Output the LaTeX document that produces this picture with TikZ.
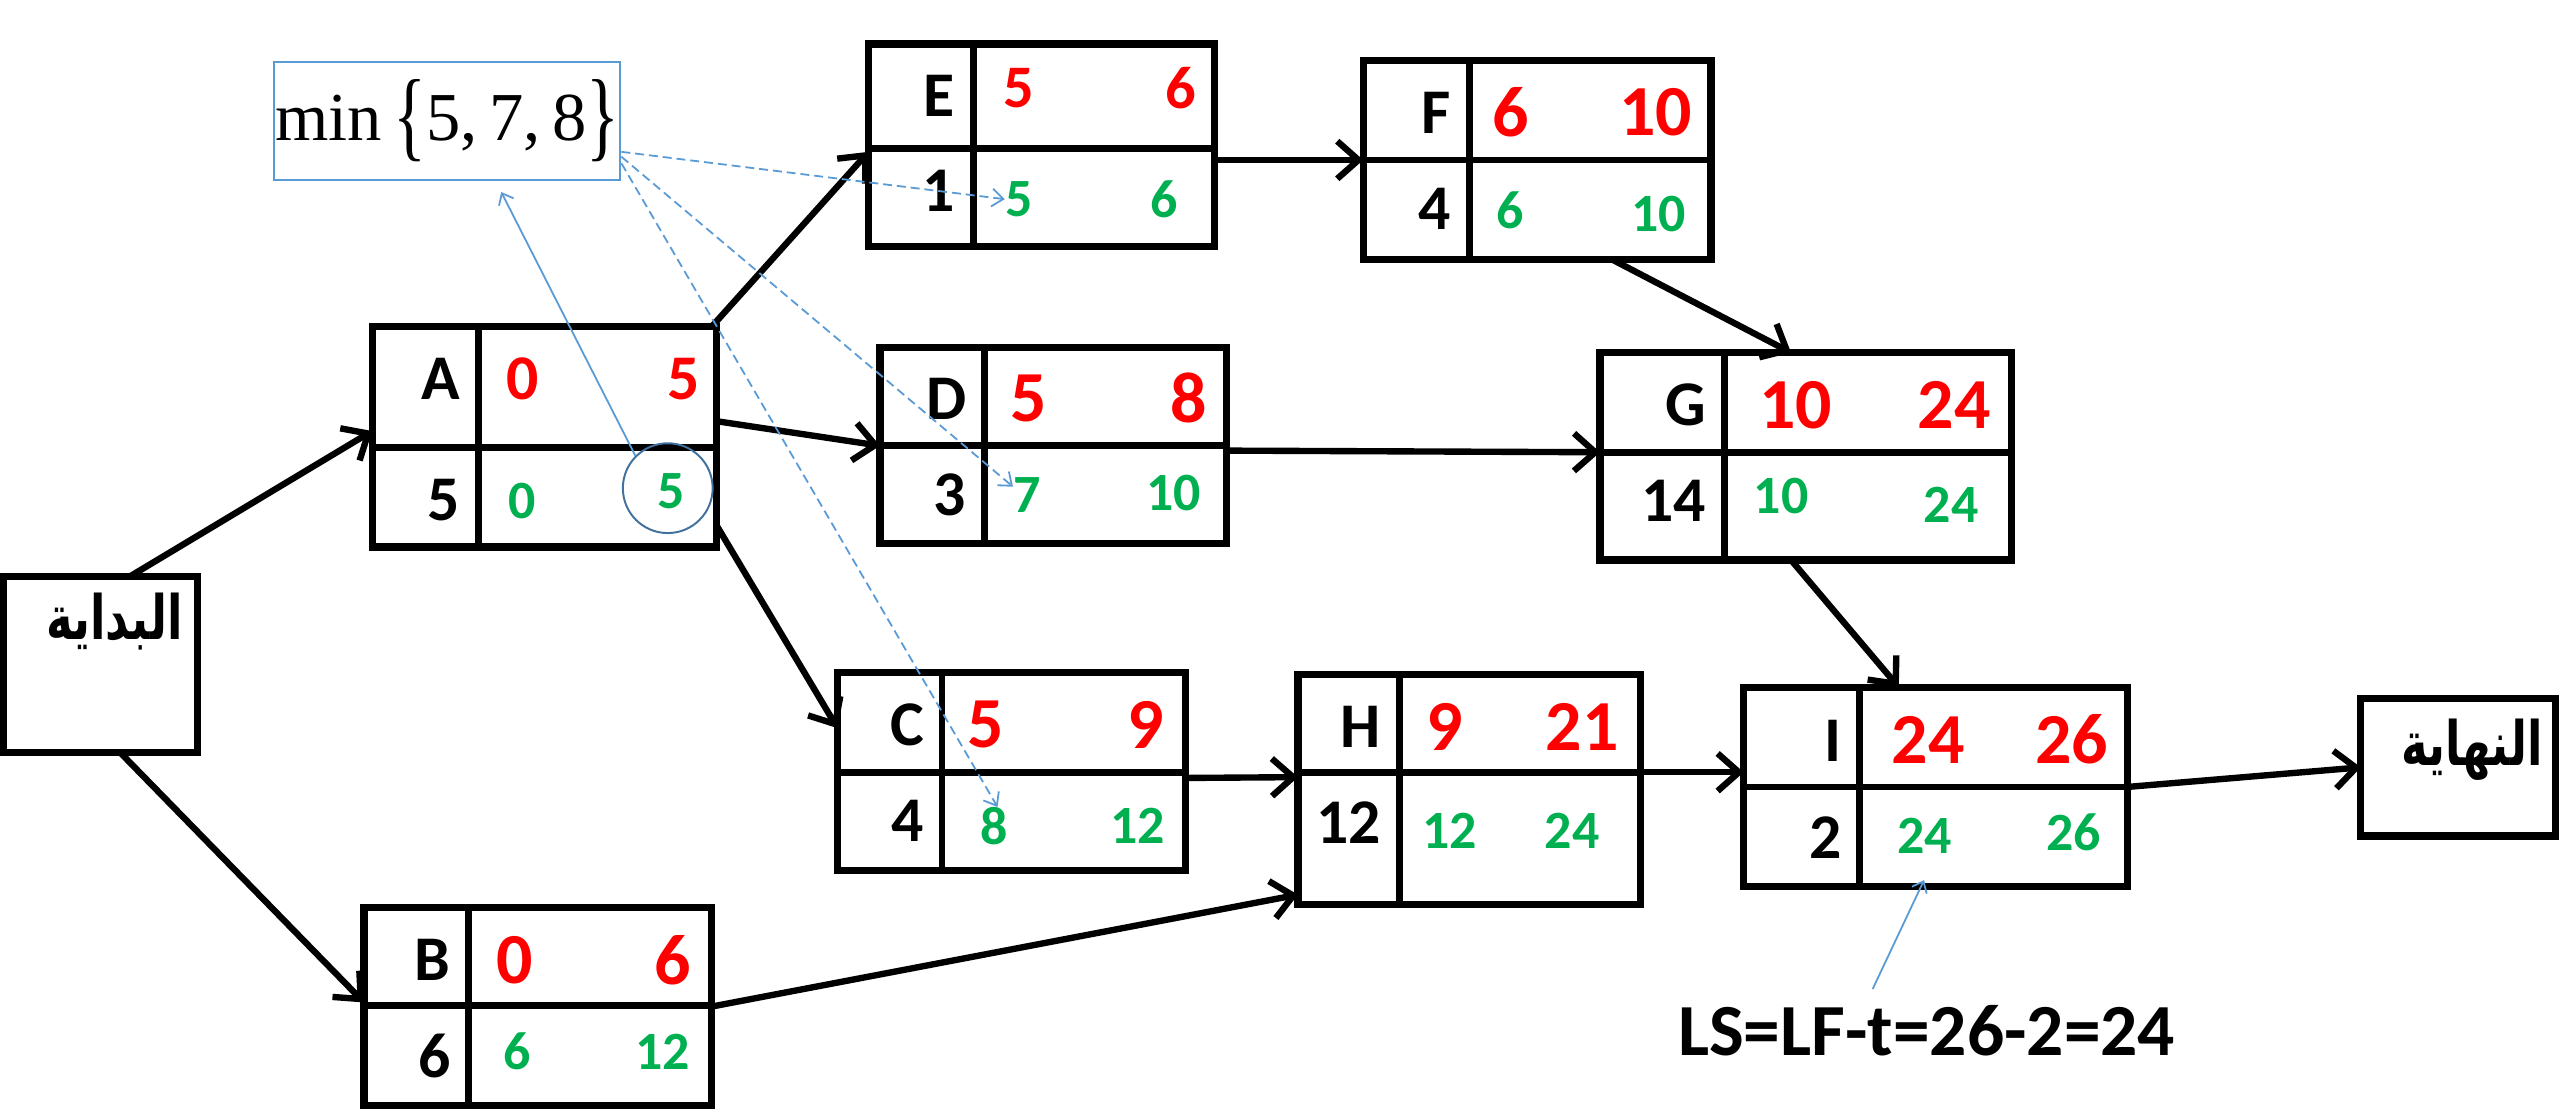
\documentclass[tikz,border=0pt]{standalone}
\usepackage{fontspec}
\usepackage{graphicx}
\setmainfont{Carlito}
\newfontfamily\arabicfont[Script=Arabic]{DejaVu Sans}
\newfontfamily\notefont{Liberation Serif}
\TeXXeTstate=1
\usetikzlibrary{arrows.meta,calc}

\definecolor{estred}{HTML}{FF0000}
\definecolor{lsgreen}{HTML}{00B050}
\definecolor{noteblue}{HTML}{5B9BD5}
\definecolor{ringblue}{HTML}{41719C}

\tikzset{
  boxframe/.style={draw=black, line width=4.4pt, inner sep=0pt, outer sep=0pt},
  boxline/.style={draw=black, line width=4.2pt},
  actname/.style={anchor=east, inner sep=0pt, text=black,
    font=\fontsize{39}{39}\selectfont\bfseries},
  early/.style={inner sep=0pt, text=estred,
    font=\fontsize{#1}{#1}\selectfont\bfseries},
  early/.default=44,
  late/.style={inner sep=0pt, text=lsgreen,
    font=\fontsize{33}{33}\selectfont\bfseries},
  arab/.style={inner sep=0pt, font=\arabicfont\bfseries\fontsize{30}{30}\selectfont},
  conn/.style={draw=black, line width=3.9pt,
    -{Straight Barb[length=13pt,width=23pt]}},
  noteline/.style={draw=noteblue, line width=1.1pt,
    -{Straight Barb[length=6pt,width=10pt]}},
  notedash/.style={draw=noteblue, line width=1.1pt, dash pattern=on 5.5pt off 3pt,
    -{Straight Barb[length=7pt,width=11pt]}},
}

% activity box: name, x1, y1, x2, y2, column divider x, row divider y
\newcommand\actbox[7]{%
  \node[boxframe, minimum width={(#4-#2)*1pt}, minimum height={(#5-#3)*1pt},
        anchor=north west] (#1) at (#2,#3) {};
  \draw[boxline] (#6,#3) -- (#6,#5);
  \draw[boxline] (#2,#7) -- (#4,#7);
}
% condensed, tall Arabic caption
\newcommand\arabcaption[1]{\scalebox{0.92}[1.25]{\beginR #1\endR}}

\begin{document}
\begin{tikzpicture}[x=1pt, y=-1pt]
\useasboundingbox (0,0) rectangle (1568,679);

% start and finish boxes
\node[boxframe, minimum width=119pt, minimum height=108pt, anchor=north west] (start) at (2.2,353) {};
\node[arab] (start-t) at (70,381) {\arabcaption{البداية}};
\node[boxframe, minimum width=119pt, minimum height=84pt, anchor=north west] (finish) at (1446,428) {};
\node[arab] (finish-t) at (1514,459) {\arabcaption{النهاية}};

% A
\actbox{A}{228}{200}{439}{335}{293}{274}
\node[actname] (A-n) at (282,232) {A};
\node[actname] (A-d) at (282,306) {5};
\node[early=39] (A-es) at (320,232) {0};
\node[early=39] (A-ef) at (419,232) {5};
\node[late] (A-ls) at (320,307) {0};
\node[late] (A-lf) at (411,301) {5};
\node[draw=ringblue, line width=1.2pt, circle, minimum size=55pt, inner sep=0pt] (A-ring) at (409,299) {};

% E
\actbox{E}{532}{27}{744}{151}{596}{91}
\node[actname] (E-n) at (585,59) {E};
\node[actname] (E-d) at (585,117) {1};
\node[early=37] (E-es) at (624,54) {5};
\node[early=37] (E-ef) at (723,54) {6};
\node[late] (E-ls) at (624,122) {5};
\node[late] (E-lf) at (713,122) {6};

% D
\actbox{D}{539}{213}{751}{333}{603}{273}
\node[actname] (D-n) at (592,244) {D};
\node[actname] (D-d) at (592,303) {3};
\node[early] (D-es) at (630,244) {5};
\node[early] (D-ef) at (728,244) {8};
\node[late] (D-ls) at (629,303) {7};
\node[late] (D-lf) at (719,302) {10};

% F
\actbox{F}{835}{37}{1048}{159}{900}{98}
\node[actname] (F-n) at (889,69) {F};
\node[actname] (F-d) at (889,128) {4};
\node[early] (F-es) at (925,69) {6};
\node[early] (F-ef) at (1014,69) {10};
\node[late] (F-ls) at (925,129) {6};
\node[late] (F-lf) at (1016,131) {10};

% G
\actbox{G}{980}{216}{1232}{343}{1056}{277}
\node[actname] (G-n) at (1045,248) {G};
\node[actname] (G-d) at (1045,307) {14};
\node[early] (G-es) at (1100,248) {10};
\node[early] (G-ef) at (1197,248) {24};
\node[late] (G-ls) at (1091,304) {10};
\node[late] (G-lf) at (1195,309) {24};

% C
\actbox{C}{513}{412}{726}{533}{577}{473}
\node[actname] (C-n) at (566,444) {C};
\node[actname] (C-d) at (566,503) {4};
\node[early] (C-es) at (604,444) {5};
\node[early] (C-ef) at (702,444) {9};
\node[late] (C-ls) at (609,506) {8};
\node[late] (C-lf) at (697,506) {12};

% B
\actbox{B}{223}{556}{436}{677}{287}{616}
\node[actname] (B-n) at (276,588) {B};
\node[actname] (B-d) at (276,647) {6};
\node[early] (B-es) at (315,588) {0};
\node[early] (B-ef) at (412,588) {6};
\node[late] (B-ls) at (317,644) {6};
\node[late] (B-lf) at (406,644) {12};

% H
\actbox{H}{795}{413}{1005}{554}{857}{473}
\node[actname] (H-n) at (846,445) {H};
\node[actname] (H-d) at (846,504) {12};
\node[early] (H-es) at (885,445) {9};
\node[early] (H-ef) at (969,445) {21};
\node[late] (H-ls) at (888,509) {12};
\node[late] (H-lf) at (963,509) {24};

% I
\actbox{I}{1068}{421}{1303}{543}{1139}{482}
\node[actname] (I-n) at (1128,454) {I};
\node[actname] (I-d) at (1128,513) {2};
\node[early] (I-es) at (1181,453) {24};
\node[early] (I-ef) at (1269,453) {26};
\node[late] (I-ls) at (1179,512) {24};
\node[late] (I-lf) at (1270,510) {26};

% precedence arrows
\draw[conn] ([xshift=18pt]start.north) -- ([yshift=3.5pt]A.west);
\draw[conn] ([xshift=12pt]start.south) -- ([yshift=2.5pt]B.west);
\draw[conn] ([xshift=-3pt]A.north east) -- ([yshift=-4pt]E.west);
\draw[conn] ([yshift=9.5pt]A.east) -- (D.west);
\draw[conn] ([yshift=13pt]A.south east) -- ([yshift=26.5pt]C.west);
\draw[conn] ([yshift=-9pt]E.east) -- (F.west);
\draw[conn] ([xshift=46pt]F.south) -- ([xshift=-9pt]G.north);
\draw[conn] ([yshift=-3pt]D.east) -- ([yshift=2.5pt]G.west);
\draw[conn] ([xshift=-9pt]G.south) -- ([xshift=-22.5pt]I.north);
\draw[conn] ([yshift=-4pt]C.east) -- ([yshift=7.5pt]H.west);
\draw[conn] (B.east) -- ([yshift=6pt]H.south west);
\draw[conn] ([yshift=10.5pt]H.east) -- ([yshift=9pt]I.west);
\draw[conn] (I.east) -- (finish.west);

% note: minimum of the successors' late starts
\node[draw=noteblue, line width=1.2pt, fill=white, minimum width=212pt, minimum height=72pt,
      inner sep=0pt] (minbox) at (274,74)
  {\notefont\fontsize{42}{42}\selectfont
   min\,\raisebox{-0.12em}{\scalebox{1}[1.45]{\{}}5,\,7,\,8\raisebox{-0.12em}{\scalebox{1}[1.45]{\}}}};
\draw[noteline] (A-ring.135) -- ([xshift=33pt,yshift=-7pt]minbox.south);
\draw[notedash] ([yshift=-19pt]minbox.east) -- (E-ls.west);
\draw[notedash] ([yshift=-22pt]minbox.east) -- ([yshift=-6pt]D-ls.north west);
\draw[notedash] ([yshift=-26pt]minbox.east) -- ([xshift=2pt]C-ls.north);

% note: late start of the last activity
\node[inner sep=0pt, font=\fontsize{45}{45}\selectfont\bfseries] (LS) at (1180,631) {LS=LF-t=26-2=24};
\draw[noteline] ([xshift=-33pt,yshift=9.5pt]LS.north) -- ([xshift=-7pt,yshift=4pt]I.south);
\end{tikzpicture}
\end{document}
